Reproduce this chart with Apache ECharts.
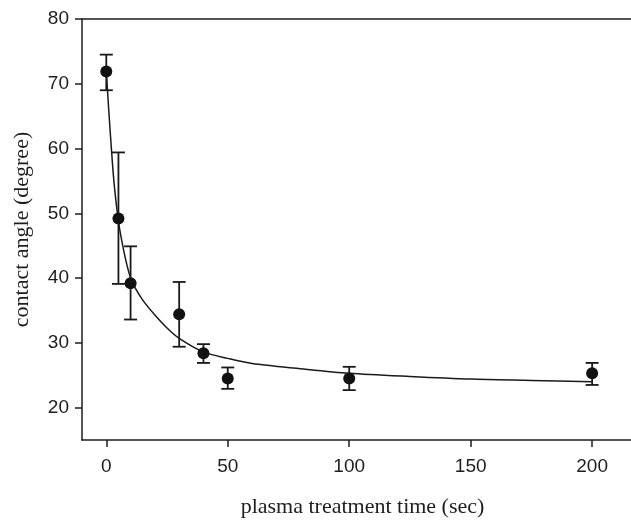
<!DOCTYPE html>
<html>
<head>
<meta charset="utf-8">
<script src="https://cdn.jsdelivr.net/npm/echarts@6/dist/echarts.min.js"></script>
<style>
  html, body { margin: 0; padding: 0; background: #fff; }
  #chart { width: 631px; height: 523px; }
</style>
</head>
<body>
<div id="chart"></div>
<script>
// measured points (plasma treatment time, contact angle)
var times = [0, 5, 10, 30, 40, 50, 100, 200];
var angles = [71.9, 49.2, 39.2, 34.4, 28.4, 24.5, 24.5, 25.3];
var errLow = [69.0, 39.1, 33.6, 29.4, 26.9, 22.9, 22.7, 23.5];
var errHigh = [74.5, 59.4, 44.9, 39.4, 29.8, 26.2, 26.3, 26.9];

// fitted curve
var fitX = [0, 1, 2, 3, 4, 5, 6, 8, 10, 12, 15, 20, 25, 30, 40, 50, 60, 80, 100, 125, 150, 175, 200];
var fitY = [72, 66, 60.5, 55.5, 51.8, 48.8, 46.5, 42.8, 40, 38.4, 36.6, 34.3, 32.3, 30.7, 28.6, 27.6, 26.8, 26.0, 25.3, 24.8, 24.4, 24.2, 24.0];

var xTicks = [0, 50, 100, 150, 200];
var yTicks = [20, 30, 40, 50, 60, 70, 80];

var chart = echarts.init(document.getElementById("chart"));

var tickFont = {
  color: "#1e1e1e",
  fontFamily: "Liberation Sans",
  fontSize: 19
};

var option = {
  animation: false,
  grid: {
    left: 82,
    right: 0,
    top: 19,
    bottom: 79
  },
  xAxis: [
    {
      type: "value",
      min: -10,
      max: 216,
      name: "plasma treatment time (sec)",
      nameLocation: "middle",
      nameGap: 56,
      nameTextStyle: {
        color: "#1e1e1e",
        fontFamily: "Liberation Serif",
        fontSize: 22,
        padding: [0, 0, 0, 12]
      },
      splitLine: { show: false },
      axisLine: { onZero: false, lineStyle: { color: "#1e1e1e", width: 1.5 } },
      axisTick: {
        customValues: xTicks,
        length: 7,
        lineStyle: { color: "#1e1e1e", width: 1.5 }
      },
      axisLabel: Object.assign({ customValues: xTicks, margin: 17 }, tickFont)
    },
    {
      // top frame line only
      type: "value",
      position: "top",
      min: -10,
      max: 216,
      splitLine: { show: false },
      axisLine: { show: true, onZero: false, lineStyle: { color: "#1e1e1e", width: 1.5 } },
      axisTick: { show: false },
      axisLabel: { show: false }
    }
  ],
  yAxis: {
    type: "value",
    min: 15,
    max: 80,
    name: "contact angle (degree)",
    nameLocation: "middle",
    nameGap: 49,
    nameTextStyle: {
      color: "#1e1e1e",
      fontFamily: "Liberation Serif",
      fontSize: 22
    },
    splitLine: { show: false },
    axisLine: { show: true, onZero: false, lineStyle: { color: "#1e1e1e", width: 1.5 } },
    axisTick: {
      show: true,
      customValues: yTicks,
      length: 7,
      lineStyle: { color: "#1e1e1e", width: 1.5 }
    },
    axisLabel: Object.assign({ customValues: yTicks, margin: 13 }, tickFont)
  },
  series: [
    {
      type: "line",
      data: fitX.map(function (x, i) { return [x, fitY[i]]; }),
      smooth: 0.3,
      symbol: "none",
      lineStyle: { color: "#1a1a1a", width: 1.5 },
      z: 2
    },
    {
      type: "custom",
      data: times.map(function (t, i) { return [t, errLow[i], errHigh[i]]; }),
      renderItem: function (params, api) {
        var lo = api.coord([api.value(0), api.value(1)]);
        var hi = api.coord([api.value(0), api.value(2)]);
        var half = 6.5;
        var style = { stroke: "#1a1a1a", lineWidth: 1.8 };
        return {
          type: "group",
          children: [
            { type: "line", shape: { x1: lo[0], y1: lo[1], x2: hi[0], y2: hi[1] }, style: style },
            { type: "line", shape: { x1: hi[0] - half, y1: hi[1], x2: hi[0] + half, y2: hi[1] }, style: style },
            { type: "line", shape: { x1: lo[0] - half, y1: lo[1], x2: lo[0] + half, y2: lo[1] }, style: style }
          ]
        };
      },
      z: 3
    },
    {
      type: "scatter",
      data: times.map(function (t, i) { return [t, angles[i]]; }),
      symbol: "circle",
      symbolSize: 12,
      itemStyle: { color: "#111", opacity: 1 },
      z: 4
    }
  ]
};

chart.setOption(option);
</script>
</body>
</html>
